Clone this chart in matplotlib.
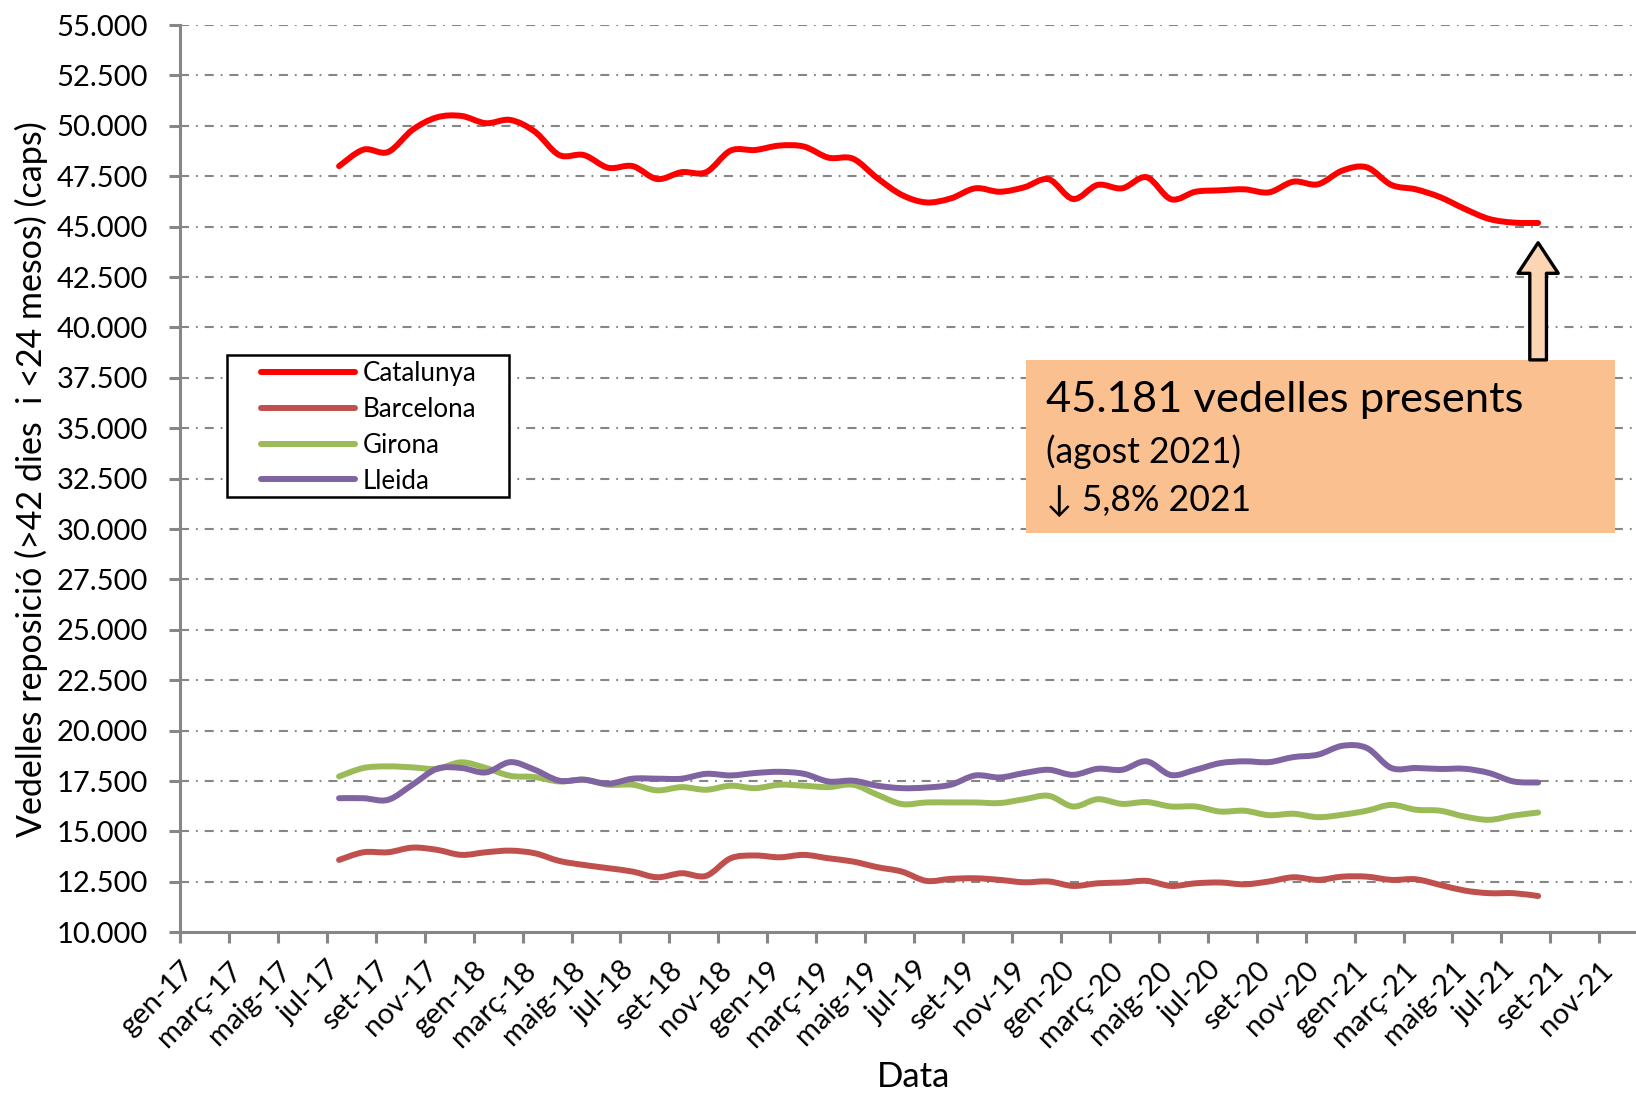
import numpy as np
import matplotlib
matplotlib.use('Agg')
import matplotlib.pyplot as plt
from matplotlib.path import Path
from matplotlib.patches import PathPatch, Rectangle
from matplotlib.lines import Line2D

plt.rcParams['font.family'] = ['Lato', 'DejaVu Sans']
plt.rcParams['lines.scale_dashes'] = False

## data: monthly values, jul-17 .. ago-21
start_month = 6   # jul-17 (months counted from gen-17)
catalunya = [48000, 48820, 48700, 49800, 50420, 50490,
             50130, 50290, 49710, 48550, 48550, 47920, 48000, 47360, 47700, 47700, 48770, 48800,
             49020, 48970, 48420, 48370, 47400, 46570, 46200, 46400, 46900, 46730, 46950, 47350,
             46370, 47070, 46900, 47450, 46360, 46730, 46800, 46850, 46700, 47230, 47100, 47780,
             47940, 47070, 46850, 46460, 45880, 45380, 45200, 45181]
barcelona = [13590, 13970, 13970, 14200, 14090, 13840,
             13970, 14050, 13920, 13540, 13340, 13180, 13010, 12730, 12930, 12800, 13670, 13810,
             13720, 13840, 13670, 13510, 13230, 13010, 12550, 12650, 12680, 12600, 12480, 12520,
             12300, 12430, 12470, 12550, 12300, 12430, 12470, 12380, 12520, 12730, 12600, 12760,
             12760, 12600, 12630, 12350, 12070, 11940, 11940, 11800]
girona = [17730, 18150, 18230, 18180, 18110, 18430,
          18150, 17760, 17700, 17480, 17570, 17320, 17320, 17040, 17200, 17070, 17270, 17150,
          17320, 17270, 17200, 17320, 16820, 16360, 16440, 16440, 16440, 16410, 16600, 16770,
          16240, 16600, 16370, 16460, 16240, 16240, 15990, 16030, 15810, 15880, 15710, 15830,
          16030, 16320, 16080, 16030, 15740, 15580, 15790, 15940]
lleida = [16650, 16650, 16570, 17320, 18110, 18150,
          17930, 18440, 18060, 17520, 17570, 17370, 17620, 17620, 17620, 17860, 17780, 17900,
          17960, 17860, 17480, 17520, 17270, 17150, 17180, 17320, 17780, 17680, 17900, 18060,
          17810, 18110, 18060, 18480, 17800, 18060, 18390, 18480, 18440, 18690, 18810, 19250,
          19140, 18150, 18150, 18100, 18110, 17900, 17480, 17430]

series_names = ['Catalunya', 'Barcelona', 'Girona', 'Lleida']
series_colors = ['#FF0000', '#C0504D', '#9BBB59', '#8064A2']

month_names = ['gen', 'febr', 'març', 'abr', 'maig', 'juny',
               'jul', 'ag', 'set', 'oct', 'nov', 'des']
years = [17, 18, 19, 20, 21]

box_lines = ['45.181 vedelles presents', '(agost 2021)', '\u2193 5,8% 2021']


def smooth_path(x, y):
    # excel-like smoothed line: catmull-rom segments as cubic bezier
    n = len(x)
    verts = [(x[0], y[0])]
    codes = [Path.MOVETO]
    for i in range(n - 1):
        p0 = i - 1 if i > 0 else i
        p3 = i + 2 if i + 2 < n else i + 1
        c1 = (x[i] + (x[i+1] - x[p0]) / 6.0, y[i] + (y[i+1] - y[p0]) / 6.0)
        c2 = (x[i+1] - (x[p3] - x[i]) / 6.0, y[i+1] - (y[p3] - y[i]) / 6.0)
        verts += [c1, c2, (x[i+1], y[i+1])]
        codes += [Path.CURVE4] * 3
    return Path(verts, codes)


W, H = 1636, 1095
fig = plt.figure(figsize=(W / 100, H / 100), dpi=100)
ax = fig.add_axes([180 / W, 1 - 932.3 / H, 1 - 180 / W, (932.3 - 25) / H])

gray = '#868686'
lw = 4.3
handles = []
for vals, name, col in zip([catalunya, barcelona, girona, lleida], series_names, series_colors):
    x = np.arange(len(vals)) + start_month + 0.5
    y = np.array(vals, dtype=float)
    p = PathPatch(smooth_path(x, y), fill=False, edgecolor=col, lw=lw,
                  capstyle='round', joinstyle='round', zorder=3)
    ax.add_patch(p)
    handles.append(Line2D([], [], color=col, lw=lw, solid_capstyle='round', label=name))

ax.set_xlim(0, 59.5)
ax.set_ylim(10000, 55000)

yt = np.arange(10000, 55001, 2500)
ax.set_yticks(yt)
ax.set_yticklabels(['{:,.0f}'.format(v).replace(',', '.') for v in yt])
for v in yt[1:]:
    ax.axhline(v, color=gray, lw=1.5, ls=(0, (6.5, 5, 1.3, 5)), zorder=1)

xt = []
xl = []
for i, yy in enumerate(years):
    for m in range(0, 12, 2):
        k = i * 12 + m
        if k > 58:
            continue
        xt.append(k)
        xl.append('%s-%d' % (month_names[m], yy))
ax.set_xticks(xt)
ax.set_xticklabels(xl, rotation=45, ha='right', rotation_mode='anchor')

for s in ['top', 'right']:
    ax.spines[s].set_visible(False)
for s in ['left', 'bottom']:
    ax.spines[s].set_color(gray)
    ax.spines[s].set_linewidth(2.2)
ax.tick_params(axis='both', direction='out', length=8, width=2.2, color=gray,
               labelsize=21)
ax.tick_params(axis='y', pad=15)
ax.tick_params(axis='x', pad=10)

ax.set_xlabel('Data', fontsize=25)
ax.xaxis.set_label_coords(0.504, -0.142)
ax.set_ylabel('Vedelles reposició (>42 dies  i <24 mesos) (caps)', fontsize=24.5)
ax.yaxis.set_label_coords(-0.091, 0.5)

# legend: frame drawn separately so the padding matches
ax.add_patch(Rectangle((0.0323, 0.4798), 0.1937, 0.1565, transform=ax.transAxes,
                       facecolor='white', edgecolor='black', lw=1.8, zorder=4))
leg = ax.legend(handles=handles, loc='upper left', bbox_to_anchor=(0.0556, 0.6297),
                borderaxespad=0, borderpad=0, frameon=False,
                fontsize=18.6, handlelength=3.64, handletextpad=0.3, labelspacing=0.42)
leg.set_zorder(5)

# orange note box
ax.add_patch(Rectangle((0.581, 0.4401), 0.4046, 0.1907, transform=ax.transAxes,
                       facecolor='#FAC090', edgecolor='none', zorder=5))
ax.text(0.5948, 0.5867, box_lines[0], transform=ax.transAxes, fontsize=31.3,
        va='center', ha='left', zorder=6)
ax.text(0.5948, 0.5294, box_lines[1], transform=ax.transAxes, fontsize=25.6,
        va='center', ha='left', zorder=6)
ax.text(0.5948, 0.4754, box_lines[2], transform=ax.transAxes, fontsize=25.6,
        va='center', ha='left', zorder=6)

# block arrow up to last point
ax.annotate('', xy=(55.5, 44200), xytext=(55.5, 38390),
            arrowprops=dict(arrowstyle='simple,head_length=2.2,head_width=2.9,tail_width=1.2',
                            fc='#FCD5B5', ec='black', lw=2.4, mutation_scale=10,
                            shrinkA=0, shrinkB=0),
            zorder=6)

fig.savefig('out.png', dpi=100)
